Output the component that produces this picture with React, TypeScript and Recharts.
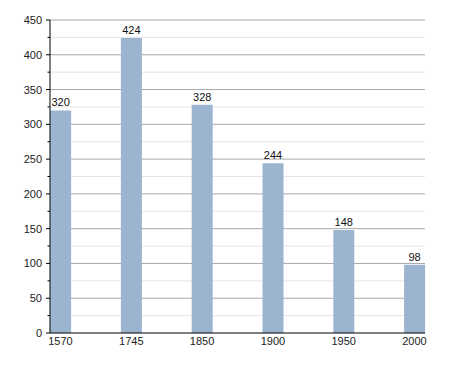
import React from 'react';
import { BarChart, Bar, XAxis, YAxis, CartesianGrid, LabelList } from 'recharts';

const years = ['1570', '1745', '1850', '1900', '1950', '2000'];
const population = [320, 424, 328, 244, 148, 98];
const yTicks = [0, 25, 50, 75, 100, 125, 150, 175, 200, 225, 250, 275, 300, 325, 350, 375, 400, 425, 450];

const data = years.map((year, i) => ({ idx: i, year, value: population[i] }));

const font = 'Arial, "Liberation Sans", sans-serif';

const CHART_H = 360;
const TOP = 12;
const BOTTOM_M = 5;
const X_AXIS_H = 30;
const plotBottom = CHART_H - BOTTOM_M - X_AXIS_H;
const plotH = plotBottom - TOP;

// major grid lines every 50, light ones in between
const gridLine = (props: any) => {
  const { x1, x2, y1, y2 } = props;
  const k = Math.round((plotBottom - y1) / (plotH / 18));
  if (k === 0) return <g key={props.key} />;
  const major = k % 2 === 0;
  return (
    <line
      key={props.key}
      x1={x1}
      x2={x2}
      y1={y1}
      y2={y2}
      stroke={major ? '#a8a8a8' : '#e4e4e4'}
      strokeWidth={1}
    />
  );
};

const YTick = (props: any) => {
  const { x, y, payload } = props;
  const major = payload.value % 50 === 0;
  return (
    <g>
      <line x1={major ? x - 4 : x - 2.5} x2={x} y1={y} y2={y} stroke="#000" strokeWidth={1} />
      {major && (
        <text x={x - 8} y={y} dy={4} textAnchor="end" fontSize={11} fill="#222" fontFamily={font}>
          {payload.value}
        </text>
      )}
    </g>
  );
};

export default function App() {
  return (
    <BarChart
      width={440}
      height={CHART_H}
      data={data}
      margin={{ top: TOP, right: 23, left: 0, bottom: BOTTOM_M }}
    >
      <CartesianGrid vertical={false} horizontal={gridLine} />
      <XAxis
        dataKey="idx"
        type="number"
        domain={[0, 5]}
        ticks={[0, 1, 2, 3, 4, 5]}
        tickFormatter={(v: number) => years[v]}
        padding={{ left: 10.5, right: 10.5 }}
        axisLine={{ stroke: '#000' }}
        tickLine={false}
        tickSize={0}
        height={X_AXIS_H}
        tickMargin={4}
        tick={{ fontSize: 11, fill: '#222', fontFamily: font }}
      />
      <YAxis
        domain={[0, 450]}
        ticks={yTicks}
        interval={0}
        width={42}
        axisLine={{ stroke: '#000' }}
        tickLine={false}
        tickSize={0}
        tickMargin={0}
        tick={<YTick />}
      />
      <Bar dataKey="value" fill="#9bb4d0" barSize={21} isAnimationActive={false}>
        <LabelList dataKey="value" position="top" offset={4} fontSize={11} fill="#111" fontFamily={font} />
      </Bar>
    </BarChart>
  );
}
